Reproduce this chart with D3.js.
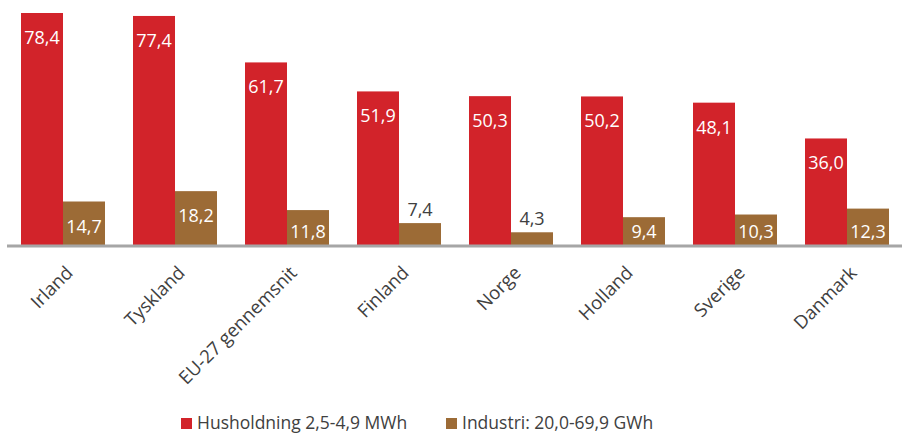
<!DOCTYPE html>
<meta charset="utf-8">
<script src="https://d3js.org/d3.v7.min.js"></script>
<style>
  body { margin: 0; background: #fff; }
  text { font-family: "Open Sans", sans-serif; }
</style>
<div id="chart"></div>
<script>
// data
const countries = ["Irland", "Tyskland", "EU-27 gennemsnit", "Finland", "Norge", "Holland", "Sverige", "Danmark"];
const husholdning = [78.4, 77.4, 61.7, 51.9, 50.3, 50.2, 48.1, 36.0];
const industri = [14.7, 18.2, 11.8, 7.4, 4.3, 9.4, 10.3, 12.3];
const seriesNames = ["Husholdning 2,5-4,9 MWh", "Industri: 20,0-69,9 GWh"];
const colors = ["#d2232a", "#9c6b36"];

const width = 902, height = 434;
const baseY = 245;

const svg = d3.select("#chart").append("svg")
    .attr("width", width)
    .attr("height", height);

const x = d3.scaleBand().domain(countries).range([7, 903]).paddingInner(0).paddingOuter(0);
const xs = d3.scaleBand().domain([0, 1]).range([14, x.bandwidth() - 14]);
const y = d3.scaleLinear().domain([0, 78.4]).range([baseY, 13]);

const fmt = v => v.toFixed(1).replace(".", ",");

const rows = countries.map((c, i) => ({c: c, vals: [husholdning[i], industri[i]]}));

const groups = svg.append("g").selectAll("g")
    .data(rows)
    .enter().append("g")
    .attr("transform", d => "translate(" + x(d.c) + ",0)");

groups.selectAll("rect")
    .data(d => d.vals.map((v, k) => ({v: v, k: k})))
    .enter().append("rect")
    .attr("x", d => xs(d.k))
    .attr("y", d => y(d.v))
    .attr("width", xs.bandwidth())
    .attr("height", d => baseY - y(d.v))
    .attr("fill", d => colors[d.k]);

// value labels: inside the bar if it is tall enough, otherwise above
const inside = v => (baseY - y(v)) > 25;
groups.selectAll("text.val")
    .data(d => d.vals.map((v, k) => ({v: v, k: k})))
    .enter().append("text")
    .attr("class", "val")
    .attr("x", d => xs(d.k) + xs.bandwidth() / 2)
    .attr("y", d => inside(d.v) ? Math.min(y(d.v) + 31, baseY - 7) : y(d.v) - 7)
    .attr("text-anchor", "middle")
    .style("font-size", "18px")
    .style("fill", d => inside(d.v) ? "#fff" : "#404040")
    .text(d => fmt(d.v));

// axis line
svg.append("line")
    .attr("x1", 7).attr("x2", 903)
    .attr("y1", baseY + 1).attr("y2", baseY + 1)
    .attr("stroke", "#a6a6a6")
    .attr("stroke-width", 3);

// category labels
svg.append("g").selectAll("text")
    .data(countries)
    .enter().append("text")
    .attr("transform", d => "translate(" + (x(d) + x.bandwidth() / 2 + 11) + "," + (baseY + 29) + ") rotate(-45)")
    .attr("text-anchor", "end")
    .style("font-size", "18.5px")
    .style("fill", "#404040")
    .text(d => d);

// legend
const legendX = [181, 446];
const legend = svg.append("g").selectAll("g")
    .data(seriesNames)
    .enter().append("g")
    .attr("transform", (d, i) => "translate(" + legendX[i] + ",418)");
legend.append("rect")
    .attr("width", 11).attr("height", 11)
    .attr("fill", (d, i) => colors[i]);
legend.append("text")
    .attr("x", 16).attr("y", 11)
    .style("font-size", "17.5px")
    .style("fill", "#404040")
    .text(d => d);
</script>
